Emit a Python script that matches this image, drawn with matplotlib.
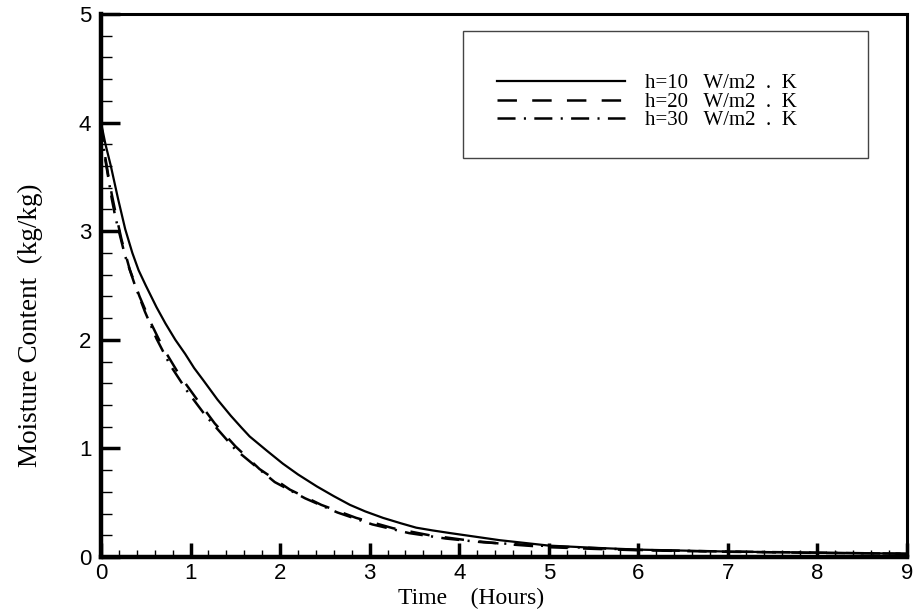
import matplotlib
matplotlib.use("Agg")
import matplotlib.pyplot as plt
from matplotlib.patches import Rectangle
from matplotlib.ticker import MultipleLocator

plt.rcParams['lines.scale_dashes'] = False

# Дані
t_h10 = [0, 0.05, 0.11, 0.19, 0.27, 0.35, 0.42, 0.5, 0.62, 0.72, 0.83, 0.94, 1.04, 1.14,
         1.3, 1.45, 1.57, 1.66, 1.85, 2.03, 2.2, 2.41, 2.6, 2.78, 2.95, 3.15, 3.35, 3.52,
         3.7, 3.9, 4.45, 5.0, 5.5, 6.0, 7.0, 8.0, 9.0]
m_h10 = [4.0, 3.8, 3.6, 3.3, 3.02, 2.8, 2.64, 2.5, 2.3, 2.15, 2.0, 1.87, 1.74, 1.63,
         1.45, 1.3, 1.19, 1.11, 0.98, 0.86, 0.76, 0.65, 0.56, 0.48, 0.42, 0.36, 0.31, 0.27,
         0.245, 0.22, 0.155, 0.105, 0.085, 0.068, 0.05, 0.04, 0.03]

t_h20 = [0, 0.04, 0.08, 0.12, 0.16, 0.23, 0.32, 0.43, 0.56, 0.69, 0.88, 1.09, 1.27, 1.5,
         1.77, 2.11, 2.46, 2.85, 3.26, 3.67, 4.08, 4.5, 5.0, 5.5, 6.0, 7.0, 8.0, 9.0]
m_h20 = [4.0, 3.72, 3.52, 3.34, 3.18, 2.92, 2.65, 2.40, 2.15, 1.93, 1.67, 1.43, 1.23, 1.02,
         0.81, 0.62, 0.48, 0.36, 0.265, 0.20, 0.155, 0.12, 0.09, 0.075, 0.062, 0.048, 0.038, 0.03]

t_h30 = [0, 0.04, 0.08, 0.12, 0.16, 0.27, 0.38, 0.49, 0.62, 0.77, 0.96, 1.16, 1.5, 1.94,
         2.28, 2.64, 3.03, 3.44, 3.85, 4.27, 5.0, 6.0, 7.0, 8.0, 9.0]
m_h30 = [4.0, 3.70, 3.50, 3.30, 3.13, 2.77, 2.50, 2.26, 2.01, 1.77, 1.53, 1.31, 0.99, 0.69,
         0.54, 0.41, 0.30, 0.22, 0.17, 0.135, 0.10, 0.065, 0.05, 0.04, 0.03]

labels = ['h=10   W/m2  .  K', 'h=20   W/m2  .  K', 'h=30   W/m2  .  K']

fig = plt.figure(figsize=(9.19, 6.15), dpi=100)
ax = fig.add_axes([101 / 919, 58 / 615, 806 / 919, 543 / 615])

ax.plot(t_h10, m_h10, color='black', lw=1.6, label=labels[0])
ax.plot(t_h20, m_h20, color='black', lw=1.8, dashes=(14, 11), label=labels[1])
ax.plot(t_h30, m_h30, color='black', lw=1.8, dashes=(13, 6, 1.5, 6), label=labels[2])

ax.set_xlim(0, 9)
ax.set_ylim(0, 5)
ax.xaxis.set_major_locator(MultipleLocator(1))
ax.xaxis.set_minor_locator(MultipleLocator(0.2))
ax.yaxis.set_major_locator(MultipleLocator(1))
ax.yaxis.set_minor_locator(MultipleLocator(0.2))

ax.tick_params(axis='x', which='major', direction='in', length=10, width=2.5, pad=4)
ax.tick_params(axis='x', which='minor', direction='in', length=5, width=1)
ax.tick_params(axis='y', which='major', direction='in', length=14, width=2.5, pad=7)
ax.tick_params(axis='y', which='minor', direction='in', length=8, width=1)
for lab in ax.get_xticklabels() + ax.get_yticklabels():
    lab.set_family('Liberation Sans')
    lab.set_fontsize(16)

ax.spines['left'].set_linewidth(3.2)
ax.spines['bottom'].set_linewidth(3.2)
ax.spines['top'].set_linewidth(2.2)
ax.spines['right'].set_linewidth(2.2)

ax.set_xlabel('Time    (Hours)', family='Liberation Serif', fontsize=17)
ax.xaxis.set_label_coords((471 - 101) / 806, -0.057)
ax.set_ylabel('Moisture Content  (kg/kg)', family='Liberation Serif', fontsize=19.5)
ax.yaxis.set_label_coords(-0.072, 0.427)

# Рамка легенди
ax.add_patch(Rectangle((362 / 806, (557 - 158) / 543), 405 / 806, 127 / 543,
                       transform=ax.transAxes, fill=False, lw=1, ec='#444444', zorder=3))
ax.legend(loc='center left', bbox_to_anchor=(396 / 806, (557 - 102) / 543),
          frameon=False, prop={'family': 'Liberation Serif', 'size': 15},
          handlelength=6.15, handletextpad=0.95, labelspacing=-0.06, borderpad=0,
          borderaxespad=0)

plt.savefig('out.png', dpi=100)
